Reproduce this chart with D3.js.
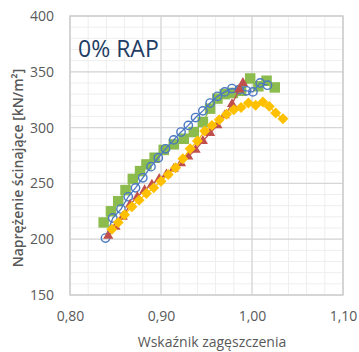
<!DOCTYPE html>
<html>
<head>
<meta charset="utf-8">
<script src="https://cdn.jsdelivr.net/npm/d3@7"></script>
<style>
  html, body { margin: 0; padding: 0; background: #fff; }
  svg { display: block; }
</style>
</head>
<body>
<svg id="chart" width="359" height="352"></svg>
<script>
// Compaction index (x) vs. shear stress (y), four specimen series
const greenX = [0.837,0.845,0.853,0.861,0.869,0.877,0.884,0.893,0.903,0.914,0.925,0.936,0.946,0.954,0.962,0.970,0.979,0.988,0.998,1.007,1.016,1.025];
const greenY = [215,225,234,244,254,261,267,273,280,285,290,296,305,317,326,330,331,333,344,337,342,336];

const blueX = [0.839,0.847,0.856,0.864,0.872,0.880,0.889,0.897,0.905,0.914,0.922,0.930,0.938,0.946,0.954,0.962,0.970,0.978,0.986,0.994,1.001,1.009,1.017];
const blueY = [201,219,227,238,246,255,265,273,281,289,296,302,309,315,322,328,332,335,334,333,332,340,338];

const redX = [0.842,0.850,0.858,0.866,0.874,0.882,0.890,0.898,0.906,0.914,0.922,0.930,0.938,0.946,0.954,0.962,0.970,0.978,0.986,0.990];
const redY = [203,211,220,231,238,244,249,254,258,263,268,274,280,288,295,302,311,321,334,340];

const yellowX = [0.846,0.853,0.860,0.868,0.876,0.884,0.892,0.900,0.908,0.916,0.924,0.932,0.940,0.948,0.956,0.964,0.972,0.980,0.988,0.996,1.004,1.012,1.019,1.026,1.034];
const yellowY = [209,215,222,229,235,241,246,252,258,264,272,281,288,297,302,307,312,316,318,322,320,323,319,313,308];

const xTicks = [0.80, 0.90, 1.00, 1.10];
const yTicks = [150, 200, 250, 300, 350, 400];

const svg = d3.select("#chart");
const plotLeft = 70, plotRight = 343, plotTop = 16, plotBottom = 295;

const x = d3.scaleLinear().domain([0.80, 1.10]).range([plotLeft, plotRight]);
const y = d3.scaleLinear().domain([150, 400]).range([plotBottom, plotTop]);

// minor grid
const g = svg.append("g");
g.selectAll("line.vminor").data(d3.range(0.80, 1.1001, 0.02)).join("line")
  .attr("x1", d => x(d)).attr("x2", d => x(d)).attr("y1", plotTop).attr("y2", plotBottom)
  .attr("stroke", "#eeeeee").attr("stroke-width", 1);
g.selectAll("line.hminor").data(d3.range(150, 400.1, 10)).join("line")
  .attr("y1", d => y(d)).attr("y2", d => y(d)).attr("x1", plotLeft).attr("x2", plotRight)
  .attr("stroke", "#eeeeee").attr("stroke-width", 1);

// major grid
g.selectAll("line.vmajor").data(xTicks).join("line")
  .attr("x1", d => x(d)).attr("x2", d => x(d)).attr("y1", plotTop).attr("y2", plotBottom)
  .attr("stroke", "#d6d6d6").attr("stroke-width", 1.2);
g.selectAll("line.hmajor").data(yTicks).join("line")
  .attr("y1", d => y(d)).attr("y2", d => y(d)).attr("x1", plotLeft).attr("x2", plotRight)
  .attr("stroke", "#d6d6d6").attr("stroke-width", 1.2);

// plot frame
svg.append("rect").attr("x", plotLeft).attr("y", plotTop)
  .attr("width", plotRight - plotLeft).attr("height", plotBottom - plotTop)
  .attr("fill", "none").attr("stroke", "#d0d0d0").attr("stroke-width", 1.5);

// axes (labels only)
const fmt = d => d.toFixed(2).replace(".", ",");
const xAxis = svg.append("g").attr("transform", `translate(0,${plotBottom})`)
  .call(d3.axisBottom(x).tickValues(xTicks).tickFormat(fmt).tickSize(0).tickPadding(16));
const yAxis = svg.append("g").attr("transform", `translate(${plotLeft},0)`)
  .call(d3.axisLeft(y).tickValues(yTicks).tickSize(0).tickPadding(16));
[xAxis, yAxis].forEach(a => {
  a.select(".domain").remove();
  a.selectAll("text").attr("fill", "#595959")
    .style("font-family", "'Open Sans', sans-serif").style("font-size", "14px");
});

// axis titles
svg.append("text").attr("x", 212).attr("y", 347).attr("text-anchor", "middle")
  .attr("fill", "#595959").style("font-family", "'Open Sans', sans-serif").style("font-size", "14px")
  .text("Wskaźnik zagęszczenia");
svg.append("text").attr("transform", "translate(23,168) rotate(-90)").attr("text-anchor", "middle")
  .attr("fill", "#595959").style("font-family", "'Open Sans', sans-serif").style("font-size", "14px")
  .style("font-weight", "600")
  .text("Naprężenie ścinające [kN/m²]");

// panel title
svg.append("text").attr("x", 78).attr("y", 57)
  .attr("fill", "#1f3d64").style("font-family", "'Open Sans', sans-serif").style("font-size", "23px")
  .text("0% RAP");

const line = d3.line().x(d => x(d[0])).y(d => y(d[1]));
const plot = svg.append("g");

function series(xs, ys, color, shape, size, filled, rotate) {
  const pts = xs.map((v, i) => [v, ys[i]]);
  const s = plot.append("g");
  s.append("path").datum(pts).attr("d", line)
    .attr("fill", "none").attr("stroke", color).attr("stroke-width", 1.3);
  s.selectAll("path.m").data(pts).join("path").attr("class", "m")
    .attr("transform", d => `translate(${x(d[0])},${y(d[1])}) rotate(${rotate})`)
    .attr("d", d3.symbol().type(shape).size(size))
    .attr("fill", filled ? color : "none")
    .attr("stroke", color).attr("stroke-width", filled ? 0 : 1.4);
}

series(greenX, greenY, "#8cbb4e", d3.symbolSquare, 110, true, 0);
series(blueX, blueY, "#4a78c2", d3.symbolCircle, 55, false, 0);
series(redX, redY, "#c0504d", d3.symbolTriangle, 45, true, 0);
series(yellowX, yellowY, "#ffc000", d3.symbolSquare, 60, true, 45);
</script>
</body>
</html>
